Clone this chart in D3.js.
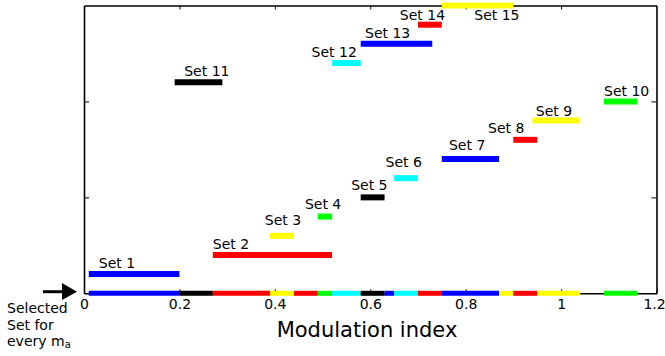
<!DOCTYPE html>
<html>
<head>
<meta charset="utf-8">
<script src="https://cdn.jsdelivr.net/npm/d3@7"></script>
<style>
  body { margin: 0; background: #fff; }
  svg { display: block; font-family: "DejaVu Sans", Verdana, sans-serif; }
</style>
</head>
<body>
<div id="chart"></div>
<script>
// sets: name, colour, level and m_a range where each set is valid
const setNames = ["Set 1", "Set 2", "Set 3", "Set 4", "Set 5", "Set 6", "Set 7", "Set 8",
  "Set 9", "Set 10", "Set 11", "Set 12", "Set 13", "Set 14", "Set 15"];
const setColors = ["#0000ff", "#ff0000", "#ffff00", "#00ff00", "#000000", "#00ffff", "#0000ff", "#ff0000",
  "#ffff00", "#00ff00", "#000000", "#00ffff", "#0000ff", "#ff0000", "#ffff00"];
const setLevel = [0.2, 0.4, 0.6, 0.8, 1.0, 1.2, 1.4, 1.6, 1.8, 2.0, 2.2, 2.4, 2.6, 2.8, 3.0];
const setStart = [0.01, 0.27, 0.39, 0.49, 0.58, 0.65, 0.75, 0.90, 0.94, 1.09, 0.19, 0.52, 0.58, 0.70, 0.75];
const setEnd   = [0.20, 0.52, 0.44, 0.52, 0.63, 0.70, 0.87, 0.95, 1.04, 1.16, 0.29, 0.58, 0.73, 0.75, 0.90];
// label anchor in data units
const labelX = [0.031, 0.27, 0.379, 0.463, 0.56, 0.632, 0.765, 0.847, 0.947, 1.09, 0.21, 0.477, 0.589, 0.662, 0.818];
const labelY = [0.26, 0.466, 0.708, 0.882, 1.073, 1.316, 1.49, 1.667, 1.847, 2.06, 2.27, 2.46, 2.66, 2.85, 2.85];

// selected set along the m_a axis (index into sets)
const selStart = [0.01, 0.20, 0.27, 0.39, 0.44, 0.49, 0.52, 0.58, 0.63, 0.65, 0.70, 0.75, 0.87, 0.90, 0.95, 1.09];
const selEnd   = [0.20, 0.27, 0.39, 0.44, 0.49, 0.52, 0.58, 0.63, 0.65, 0.70, 0.75, 0.87, 0.90, 0.95, 1.04, 1.16];
const selSet   = [0, 10, 1, 2, 1, 3, 11, 4, 12, 5, 13, 6, 14, 7, 8, 9];

const xTicks = [0, 0.2, 0.4, 0.6, 0.8, 1, 1.2];
const yTicks = [1, 2];

const width = 665, height = 356;
const svg = d3.select("#chart").append("svg")
  .attr("width", width)
  .attr("height", height);

const x = d3.scaleLinear().domain([0, 1.2]).range([84, 656.5]);
const y = d3.scaleLinear().domain([0, 3]).range([293.3, 5.5]);

const fmt = d => d3.format("~g")(d);

// frame with inward ticks
const axB = svg.append("g").attr("transform", "translate(0," + y(0) + ")")
  .call(d3.axisBottom(x).tickValues(xTicks).tickFormat(fmt).tickSizeInner(-4).tickSizeOuter(0).tickPadding(6));
const axT = svg.append("g").attr("transform", "translate(0," + y(3) + ")")
  .call(d3.axisTop(x).tickValues(xTicks.slice(1, -1)).tickFormat("").tickSizeInner(-4).tickSizeOuter(0));
const axL = svg.append("g").attr("transform", "translate(" + x(0) + ",0)")
  .call(d3.axisLeft(y).tickValues(yTicks).tickFormat("").tickSizeInner(-5).tickSizeOuter(0));
const axR = svg.append("g").attr("transform", "translate(" + x(1.2) + ",0)")
  .call(d3.axisRight(y).tickValues(yTicks).tickFormat("").tickSizeInner(-5).tickSizeOuter(0));

[axB, axT, axL, axR].forEach(a => {
  a.select(".domain").attr("stroke", "#000").attr("stroke-width", 1.6);
  a.selectAll(".tick line").attr("stroke", "#000").attr("stroke-width", 1);
});
axB.selectAll(".tick text")
  .attr("font-size", 14)
  .attr("font-family", "DejaVu Sans, Verdana, sans-serif")
  .attr("fill", "#000")
  // last label sits at the window edge
  .attr("dx", d => d === 1.2 ? -2.5 : 0);

// set bars
svg.append("g").selectAll("line.set")
  .data(setNames)
  .enter()
  .append("line")
  .attr("class", "set")
  .attr("x1", (d, i) => x(setStart[i]))
  .attr("x2", (d, i) => x(setEnd[i]))
  .attr("y1", (d, i) => y(setLevel[i]))
  .attr("y2", (d, i) => y(setLevel[i]))
  .attr("stroke", (d, i) => setColors[i])
  .attr("stroke-width", 6);

svg.append("g").selectAll("text.lbl")
  .data(setNames)
  .enter()
  .append("text")
  .attr("class", "lbl")
  .attr("x", (d, i) => x(labelX[i]))
  .attr("y", (d, i) => y(labelY[i]))
  .attr("font-size", 14)
  .attr("fill", "#000")
  .text(d => d);

// selected set strip on the m_a axis
svg.append("g").selectAll("line.sel")
  .data(selSet)
  .enter()
  .append("line")
  .attr("class", "sel")
  .attr("x1", (d, i) => x(selStart[i]))
  .attr("x2", (d, i) => x(selEnd[i]))
  .attr("y1", y(0))
  .attr("y2", y(0))
  .attr("stroke", d => setColors[d])
  .attr("stroke-width", 5);

// axis title
svg.append("text")
  .attr("x", 367)
  .attr("y", 337)
  .attr("text-anchor", "middle")
  .attr("font-size", 21)
  .attr("fill", "#000")
  .text("Modulation index");

// arrow + note
svg.append("line")
  .attr("x1", 43).attr("x2", 64)
  .attr("y1", 291.7).attr("y2", 291.7)
  .attr("stroke", "#000").attr("stroke-width", 3);
svg.append("path")
  .attr("d", "M62,283 L77,291.7 L62,300 Z")
  .attr("fill", "#000");

const note = svg.append("text")
  .attr("x", 7)
  .attr("font-size", 14)
  .attr("fill", "#000");
note.append("tspan").attr("x", 7).attr("y", 313).text("Selected");
note.append("tspan").attr("x", 7).attr("y", 329.5).text("Set for");
note.append("tspan").attr("x", 7).attr("y", 346).text("every m");
note.append("tspan").attr("font-size", 10).attr("dy", 2).text("a");
</script>
</body>
</html>
